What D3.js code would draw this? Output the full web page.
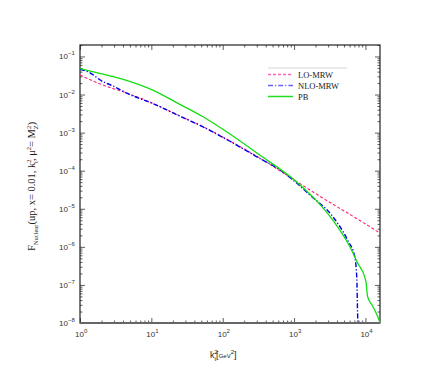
<!DOCTYPE html>
<html>
<head>
<meta charset="utf-8">
<script src="https://cdn.jsdelivr.net/npm/d3@7"></script>
<style>
  body { margin: 0; background: #fff; }
  svg { display: block; }
</style>
</head>
<body>
<svg id="chart"></svg>
<script>
// k_t^2 [GeV^2] and F values
const loK = [1, 2.1, 4.7, 10.5, 23.6, 53, 119, 330, 870, 2160, 10000, 16000];
const loF = [0.0325, 0.0177, 0.0107, 0.00586, 0.00289, 0.00143, 6.4e-4, 2.15e-4, 6.8e-5, 2.29e-5, 4.0e-6, 2.3e-6];

const nloK = [1, 1.3, 2.1, 2.72, 4.7, 10.5, 23.6, 53, 119, 330, 630, 1000, 1660, 3470, 5620, 7080, 7590, 7760, 7850];
const nloF = [0.0458, 0.0396, 0.0217, 0.0177, 0.0105, 0.0058, 0.00285, 0.00141, 6.3e-4, 2.1e-4, 1.05e-4, 5.4e-5, 2.3e-5, 6.3e-6, 1.5e-6, 5.5e-7, 1.35e-7, 1.8e-8, 1e-8];

const pbK = [1, 2.1, 4.7, 10.5, 23.6, 53, 119, 330, 870, 1200, 2040, 3470, 6030, 7760, 10000, 10230, 10700, 12600, 14800, 16000];
const pbF = [0.0481, 0.0345, 0.023, 0.0131, 0.00586, 0.00261, 9.9e-4, 2.57e-4, 7.1e-5, 4.3e-5, 1.66e-5, 5.1e-6, 1.02e-6, 3.8e-7, 1.4e-7, 1.12e-7, 5.0e-8, 2.8e-8, 1.5e-8, 1.02e-8];

const xDecades = [0, 1, 2, 3, 4];
const yDecades = [-1, -2, -3, -4, -5, -6, -7, -8];
const legendNames = ['LO-MRW', 'NLO-MRW', 'PB'];

const width = 442;
const height = 387;
const plot = {left: 80, right: 380, top: 45, bottom: 323};

const svg = d3.select('#chart')
  .attr('width', width)
  .attr('height', height);

const x = d3.scaleLog().domain([1, 1.6e4]).range([plot.left, plot.right]);
const y = d3.scaleLog().domain([1e-8, 0.2]).range([plot.bottom, plot.top]);

const minorVals = (decades, domain) => {
  const vals = [];
  decades.forEach(d => {
    for (let m = 2; m <= 9; m++) {
      const v = m * Math.pow(10, d);
      if (v >= domain[0] && v <= domain[1]) vals.push(v);
    }
  });
  return vals;
};

const xMajor = xDecades.map(d => Math.pow(10, d));
const yMajor = yDecades.map(d => Math.pow(10, d));
const xMinor = minorVals(xDecades, x.domain());
const yMinor = minorVals(yDecades, y.domain());

const addAxis = (axisFn, scale, vals, size, transform) => {
  const g = svg.append('g')
    .attr('transform', transform)
    .call(axisFn(scale).tickValues(vals).tickSizeInner(size).tickSizeOuter(0).tickFormat(''));
  g.select('.domain').remove();
  g.selectAll('line').attr('stroke', '#333').attr('stroke-width', 0.8);
};

addAxis(d3.axisBottom, x, xMajor, -5, `translate(0,${plot.bottom})`);
addAxis(d3.axisBottom, x, xMinor, -2.5, `translate(0,${plot.bottom})`);
addAxis(d3.axisTop, x, xMajor, -5, `translate(0,${plot.top})`);
addAxis(d3.axisTop, x, xMinor, -2.5, `translate(0,${plot.top})`);
addAxis(d3.axisLeft, y, yMajor, -5, `translate(${plot.left},0)`);
addAxis(d3.axisLeft, y, yMinor, -2.5, `translate(${plot.left},0)`);
addAxis(d3.axisRight, y, yMajor, -5, `translate(${plot.right},0)`);
addAxis(d3.axisRight, y, yMinor, -2.5, `translate(${plot.right},0)`);

// frame
svg.append('rect')
  .attr('x', plot.left).attr('y', plot.top)
  .attr('width', plot.right - plot.left).attr('height', plot.bottom - plot.top)
  .attr('fill', 'none')
  .attr('stroke', '#222')
  .attr('stroke-width', 1.2);
svg.append('line')
  .attr('x1', plot.left).attr('x2', plot.right)
  .attr('y1', plot.bottom).attr('y2', plot.bottom)
  .attr('stroke', '#666')
  .attr('stroke-width', 2);

// tick labels
const powLabel = (sel, exp) => {
  sel.append('tspan').text('10');
  sel.append('tspan')
    .attr('dy', -4)
    .attr('font-size', 6)
    .text(exp < 0 ? '\u2212' + (-exp) : exp);
};

xDecades.forEach(d => {
  const t = svg.append('text')
    .attr('x', x(Math.pow(10, d)) - 5)
    .attr('y', plot.bottom + 14)
    .attr('font-family', 'Liberation Sans, Arial, sans-serif')
    .attr('font-size', 8)
    .attr('fill', '#333');
  powLabel(t, d);
});

yDecades.forEach(d => {
  const t = svg.append('text')
    .attr('x', plot.left - 21)
    .attr('y', y(Math.pow(10, d)) + 3)
    .attr('font-family', 'Liberation Sans, Arial, sans-serif')
    .attr('font-size', 8)
    .attr('fill', '#333');
  powLabel(t, d);
});

// curves
const line = d3.line()
  .x(d => x(d[0]))
  .y(d => y(d[1]))
  .curve(d3.curveMonotoneX);

const series = [
  {k: loK, f: loF, color: '#ff2277', dash: '3,2', w: 1.1},
  {k: nloK, f: nloF, color: '#0000ee', dash: '5,2,1.2,2', w: 1.4},
  {k: pbK, f: pbF, color: '#11dd11', dash: null, w: 1.3}
];

series.forEach(s => {
  svg.append('path')
    .datum(s.k.map((k, i) => [k, s.f[i]]))
    .attr('d', line)
    .attr('fill', 'none')
    .attr('stroke', s.color)
    .attr('stroke-width', s.w)
    .attr('stroke-dasharray', s.dash);
});

// legend
const legend = svg.append('g');
legend.append('line')
  .attr('x1', 268).attr('x2', 347)
  .attr('y1', 68).attr('y2', 68)
  .attr('stroke', '#ccc')
  .attr('stroke-width', 0.8);

const legendColors = ['#ff66bb', '#6666ff', '#22dd22'];
legendNames.forEach((name, i) => {
  const ly = 74.5 + i * 11;
  legend.append('line')
    .attr('x1', 268).attr('x2', 293)
    .attr('y1', ly).attr('y2', ly)
    .attr('stroke', legendColors[i])
    .attr('stroke-width', 1.5)
    .attr('stroke-dasharray', series[i].dash);
  legend.append('text')
    .attr('x', 298)
    .attr('y', ly + 3)
    .attr('font-family', 'Liberation Serif, Times New Roman, serif')
    .attr('font-size', 8.5)
    .attr('fill', '#222')
    .text(name);
});

// axis titles
const xTitle = svg.append('text')
  .attr('x', 210)
  .attr('y', 358)
  .attr('font-family', 'Liberation Sans, Arial, sans-serif')
  .attr('font-size', 9)
  .attr('fill', '#222');
xTitle.append('tspan').text('k');
xTitle.append('tspan').attr('dy', -4).attr('font-size', 6).text('2');
xTitle.append('tspan').attr('dx', -3.4).attr('dy', 6.5).attr('font-size', 6).text('t');
xTitle.append('tspan').attr('dy', -2.5).text('[');
xTitle.append('tspan').attr('font-size', 6).text('GeV');
xTitle.append('tspan').attr('dy', -4).attr('font-size', 6).text('2');
xTitle.append('tspan').attr('dy', 4).text(']');

const yTitle = svg.append('text')
  .attr('transform', 'translate(35,251) rotate(-90)')
  .attr('font-family', 'Liberation Serif, Times New Roman, serif')
  .attr('font-size', 10.5)
  .attr('fill', '#222');
yTitle.append('tspan').text('F');
yTitle.append('tspan').attr('dy', 2.5).attr('font-size', 6.5).text('Nuclear');
yTitle.append('tspan').attr('dy', -2.5).text('(up, x= 0.01, k');
yTitle.append('tspan').attr('dy', -4).attr('font-size', 6.5).text('2');
yTitle.append('tspan').attr('dx', -3.5).attr('dy', 7).attr('font-size', 6.5).text('t');
yTitle.append('tspan').attr('dy', -3).text(', \u03bc');
yTitle.append('tspan').attr('dy', -4).attr('font-size', 6.5).text('2');
yTitle.append('tspan').attr('dy', 4).text('= M');
yTitle.append('tspan').attr('dy', -4).attr('font-size', 6.5).text('2');
yTitle.append('tspan').attr('dx', -3.5).attr('dy', 7).attr('font-size', 6.5).text('Z');
yTitle.append('tspan').attr('dy', -3).text(')');
</script>
</body>
</html>
